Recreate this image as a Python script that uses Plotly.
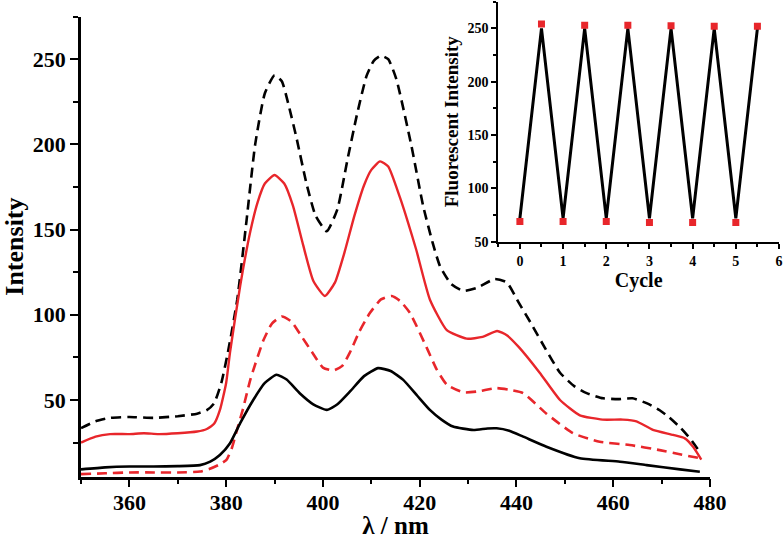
import plotly.graph_objects as go

# ---------------- main spectra ----------------
bd_x = [350, 353, 356, 360, 365, 370, 374, 376, 377.5, 379, 380.5, 382.3, 384.2, 386, 388, 390, 391.5, 393,
        394.6, 396.6, 398.5, 400.8, 403, 405, 407, 409, 410.5, 412, 413.5, 415.2, 418.3, 420.7, 422.7,
        424.2, 426.5, 429, 432, 435.5, 438, 440.5, 443, 446, 449, 452, 454.5, 457.9, 461, 464, 467, 469.6,
        471.5, 473.8, 476, 478]
bd_y = [33.5, 37.5, 39.5, 40, 39.5, 40.5, 42, 44, 48, 60, 80, 109, 155, 200, 230, 240.5, 237, 222,
        203, 177, 158, 149, 162, 190, 217, 240, 249, 252, 250, 238, 199, 164, 142,
        128.5, 118, 114, 116, 121, 119, 107, 95, 80, 66, 58, 54, 51, 50.5, 51, 48, 44,
        40, 34, 27, 19]

rs_x = [350, 353, 356, 360, 363, 366, 370, 374, 376, 377.5, 378.7, 380, 380.8, 382.9, 385, 386.5, 388, 390,
        392, 393.8, 395.9, 398, 400.4, 402.5, 404.5, 406.5, 408.5, 410, 411.8, 413.5, 415.9, 417.5, 419.3,
        422.1, 425.6, 429.7, 433, 436, 438, 440.5, 444.8, 449, 453.1, 457.8, 462, 464.8, 468.2, 472.4,
        474.8, 476.5, 478.2]
rs_y = [25, 28.5, 30, 30, 30.5, 30, 30.5, 31.5, 33, 36, 44, 60, 78, 117, 149, 166, 177, 182,
        177, 164, 141, 120, 111, 119, 137, 158, 176, 185, 190, 187, 169, 155, 138,
        109, 91, 86, 87, 90.5, 88, 81, 66, 50, 41, 38.5, 38.5, 37.5, 32.5, 29.5,
        27.5, 22.5, 15]

rd_x = [350, 355, 360, 365, 370, 374.6, 376.5, 378.5, 380.1, 381.2, 382.2, 383.5, 385, 387.7, 389.5, 391.5,
        393.5, 395.2, 398, 400, 402.1, 404, 405.6, 407.5, 409.7, 412, 414.2, 416, 418, 421.4, 423.5, 425.6,
        429, 432, 435.9, 438.5, 441.4, 446.2, 451.7, 457.2, 463.4, 469.6, 474, 478]
rd_y = [6.5, 7, 7.5, 7.5, 7.5, 8, 9.5, 12, 15, 22, 32, 45, 62, 85, 95, 99,
        96, 89, 77, 69, 67.3, 70, 78, 90, 101, 109, 111, 108, 101, 81, 68, 59,
        54.5, 55, 57, 56, 54, 42, 30.5, 25.5, 23.6, 20.6, 18, 15.8]

bs_x = [350, 355, 360, 365, 370, 374.6, 376.7, 378.7, 380.8, 382.9, 385.6, 388, 390.4, 392.5, 395.2, 398,
        400.8, 403, 405.6, 408.5, 411.4, 414, 416.6, 419.5, 422.1, 424.5, 426.9, 431.1, 434, 435.9, 438.5,
        441.4, 446.2, 453.1, 461.4, 466.9, 473.8, 477.9]
bs_y = [9.3, 10.5, 11, 11, 11.2, 11.8, 13.8, 17.7, 24.6, 36.4, 50, 60, 64.8, 62, 54, 47.5,
        44.2, 47.5, 55, 64, 68.7, 67, 61.8, 52.5, 44.2, 38.5, 34.4, 32.4, 33.3, 33.4, 32,
        28.5, 22.6, 15.8, 13.8, 11.8, 9.3, 7.9]

# ---------------- inset (cycles) ----------------
cycle_x = [0, 0.5, 1, 1.5, 2, 2.5, 3, 3.5, 4, 4.5, 5, 5.5]
cycle_line = [72, 250, 72, 250, 72, 250, 72, 250, 72, 250, 72, 250]
cycle_marker = [69, 254, 69, 253, 69, 253, 68, 252.5, 68, 252, 68, 252]

RED = "#e8262b"
FONT = "Liberation Serif"

fig = go.Figure()
fig.add_trace(go.Scatter(x=bd_x, y=bd_y, mode="lines", line=dict(color="black", width=2.6, dash="10px,6px",
                                                                 shape="spline", smoothing=0.5)))
fig.add_trace(go.Scatter(x=rs_x, y=rs_y, mode="lines", line=dict(color=RED, width=2.4, shape="spline", smoothing=0.5)))
fig.add_trace(go.Scatter(x=rd_x, y=rd_y, mode="lines", line=dict(color=RED, width=2.6, dash="10px,6px",
                                                                 shape="spline", smoothing=0.5)))
fig.add_trace(go.Scatter(x=bs_x, y=bs_y, mode="lines", line=dict(color="black", width=2.6, shape="spline", smoothing=0.5)))

fig.add_trace(go.Scatter(x=cycle_x, y=cycle_line, mode="lines", line=dict(color="black", width=3),
                         xaxis="x2", yaxis="y2"))
fig.add_trace(go.Scatter(x=cycle_x, y=cycle_marker, mode="markers",
                         marker=dict(symbol="square", size=7, color=RED, line=dict(width=0)),
                         xaxis="x2", yaxis="y2"))

W, H = 784, 539
tf_main = dict(family=FONT, size=22, color="black", weight="bold")
tf_in = dict(family=FONT, size=14, color="black", weight="bold")

fig.update_layout(
    width=W, height=H, showlegend=False,
    margin=dict(l=0, r=0, t=0, b=0),
    paper_bgcolor="white", plot_bgcolor="rgba(0,0,0,0)",
    xaxis=dict(domain=[81 / W, 710 / W], range=[350, 480], tick0=0, dtick=20, automargin=False,
               showgrid=False, zeroline=False, showline=True, linecolor="black", linewidth=2.5,
               ticks="outside", ticklen=8, tickwidth=2, tickcolor="black",
               minor=dict(dtick=10, ticks="outside", ticklen=5, tickwidth=2, tickcolor="black"),
               tickfont=tf_main, ticklabelstandoff=-4,
               title=dict(text="λ / nm", font=dict(family=FONT, size=25, color="black", weight="bold"), standoff=0)),
    yaxis=dict(domain=[1 - 476.7 / H, 1 - 16.5 / H], range=[5, 275], tick0=0, dtick=50, automargin=False,
               showgrid=False, zeroline=False, showline=True, linecolor="black", linewidth=2.5,
               ticks="outside", ticklen=8, tickwidth=2, tickcolor="black",
               minor=dict(dtick=25, ticks="outside", ticklen=5, tickwidth=2, tickcolor="black"),
               tickfont=tf_main,
               title=dict(text="Intensity", font=dict(family=FONT, size=26, color="black", weight="bold"), standoff=6)),
    xaxis2=dict(domain=[498.3 / W, 779 / W], range=[-0.5, 6], tick0=0, dtick=1, anchor="y2", automargin=False,
                showgrid=False, zeroline=False, showline=True, linecolor="black", linewidth=2,
                ticks="outside", ticklen=5, tickwidth=1.6, tickcolor="black",
                minor=dict(dtick=0.5, ticks="outside", ticklen=3, tickwidth=1.6, tickcolor="black"),
                tickfont=tf_in,
                title=dict(text="Cycle", font=dict(family=FONT, size=20, color="black", weight="bold"), standoff=2)),
    yaxis2=dict(domain=[1 - 241.7 / H, 1 - 1.7 / H], range=[50, 275], tick0=0, dtick=50, anchor="x2", automargin=False,
                showgrid=False, zeroline=False, showline=True, linecolor="black", linewidth=2,
                ticks="outside", ticklen=5, tickwidth=1.6, tickcolor="black",
                minor=dict(dtick=25, ticks="outside", ticklen=3, tickwidth=1.6, tickcolor="black"),
                tickfont=tf_in,
                title=dict(text="Fluorescent Intensity", font=dict(family=FONT, size=19, color="black", weight="bold"),
                           standoff=4)),
)

fig.write_html("out.html", config={"displayModeBar": False},
               post_script="document.body.style.margin='0px';document.body.style.overflow='hidden';")
